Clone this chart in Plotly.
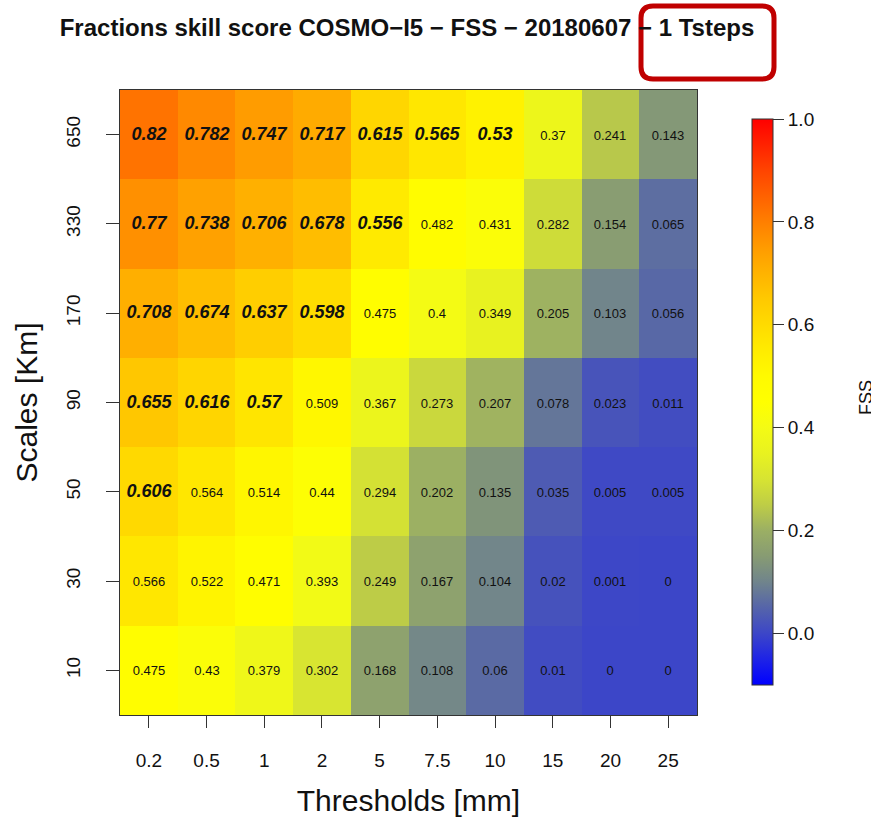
import plotly.graph_objects as go

# Fractions skill score for COSMO-I5, run 20180607, 1 time step
thresholds = ["0.2", "0.5", "1", "2", "5", "7.5", "10", "15", "20", "25"]
scales = ["10", "30", "50", "90", "170", "330", "650"]  # bottom -> top

fss_10 = [0.475, 0.43, 0.379, 0.302, 0.168, 0.108, 0.06, 0.01, 0, 0]
fss_30 = [0.566, 0.522, 0.471, 0.393, 0.249, 0.167, 0.104, 0.02, 0.001, 0]
fss_50 = [0.606, 0.564, 0.514, 0.44, 0.294, 0.202, 0.135, 0.035, 0.005, 0.005]
fss_90 = [0.655, 0.616, 0.57, 0.509, 0.367, 0.273, 0.207, 0.078, 0.023, 0.011]
fss_170 = [0.708, 0.674, 0.637, 0.598, 0.475, 0.4, 0.349, 0.205, 0.103, 0.056]
fss_330 = [0.77, 0.738, 0.706, 0.678, 0.556, 0.482, 0.431, 0.282, 0.154, 0.065]
fss_650 = [0.82, 0.782, 0.747, 0.717, 0.615, 0.565, 0.53, 0.37, 0.241, 0.143]

# 1 = skilful (useful) score, shown in bold italic
useful_10 = [0, 0, 0, 0, 0, 0, 0, 0, 0, 0]
useful_30 = [0, 0, 0, 0, 0, 0, 0, 0, 0, 0]
useful_50 = [1, 0, 0, 0, 0, 0, 0, 0, 0, 0]
useful_90 = [1, 1, 1, 0, 0, 0, 0, 0, 0, 0]
useful_170 = [1, 1, 1, 1, 0, 0, 0, 0, 0, 0]
useful_330 = [1, 1, 1, 1, 1, 0, 0, 0, 0, 0]
useful_650 = [1, 1, 1, 1, 1, 1, 1, 0, 0, 0]

cbar_ticks = [0.0, 0.2, 0.4, 0.6, 0.8, 1.0]

z = [fss_10, fss_30, fss_50, fss_90, fss_170, fss_330, fss_650]
useful = [useful_10, useful_30, useful_50, useful_90, useful_170, useful_330, useful_650]


def cell_label(v, u):
    s = f"{v:g}"
    if u:
        return f"<span style='font-size:18px'><b><i>{s}</i></b></span>"
    return s


text = [[cell_label(v, u) for v, u in zip(zr, ur)] for zr, ur in zip(z, useful)]

ZMIN, ZMAX = -0.1, 1.0
stops = [
    (-0.10, (0, 0, 255)),
    (-0.05, (30, 35, 230)),
    (0.00, (60, 70, 200)),
    (0.05, (85, 100, 170)),
    (0.10, (112, 132, 140)),
    (0.15, (135, 155, 115)),
    (0.20, (155, 175, 100)),
    (0.25, (190, 205, 70)),
    (0.30, (215, 228, 50)),
    (0.35, (232, 242, 32)),
    (0.40, (244, 251, 20)),
    (0.45, (255, 255, 0)),
    (0.50, (255, 250, 0)),
    (0.55, (255, 236, 0)),
    (0.60, (255, 219, 0)),
    (0.65, (255, 201, 0)),
    (0.70, (255, 179, 0)),
    (0.75, (255, 155, 0)),
    (0.80, (255, 127, 0)),
    (0.90, (255, 68, 0)),
    (1.00, (255, 0, 0)),
]
colorscale = [[(v - ZMIN) / (ZMAX - ZMIN), f"rgb{c}"] for v, c in stops]

W, H = 871, 817
L, R, T, B = 120, 697, 90, 715  # plot area in pixels


def px_x(x):
    return (x - L) / (R - L)


def px_y(y):
    return (B - y) / (B - T)


fig = go.Figure(
    go.Heatmap(
        x=thresholds,
        y=scales,
        z=z,
        zmin=ZMIN,
        zmax=ZMAX,
        colorscale=colorscale,
        text=text,
        texttemplate="%{text}",
        textfont=dict(family="Liberation Sans", size=13, color="#111111"),
        hoverinfo="x+y+z",
        colorbar=dict(
            x=px_x(752),
            xanchor="left",
            xpad=0,
            ypad=0,
            y=px_y(402),
            yanchor="middle",
            len=566,
            lenmode="pixels",
            thickness=21,
            thicknessmode="pixels",
            outlinewidth=1,
            outlinecolor="#333333",
            tickmode="array",
            tickvals=cbar_ticks,
            ticktext=[f"{t:.1f}" for t in cbar_ticks],
            ticks="outside",
            ticklen=11,
            tickcolor="#333333",
            tickfont=dict(family="Liberation Sans", size=19, color="#111111"),
        ),
    )
)

# rounded highlight box around the time-step part of the title
x0, x1, y0, y1, r = 641, 774, 6, 79, 12
path = (
    f"M {px_x(x0 + r)},{px_y(y0)} L {px_x(x1 - r)},{px_y(y0)} "
    f"Q {px_x(x1)},{px_y(y0)} {px_x(x1)},{px_y(y0 + r)} "
    f"L {px_x(x1)},{px_y(y1 - r)} "
    f"Q {px_x(x1)},{px_y(y1)} {px_x(x1 - r)},{px_y(y1)} "
    f"L {px_x(x0 + r)},{px_y(y1)} "
    f"Q {px_x(x0)},{px_y(y1)} {px_x(x0)},{px_y(y1 - r)} "
    f"L {px_x(x0)},{px_y(y0 + r)} "
    f"Q {px_x(x0)},{px_y(y0)} {px_x(x0 + r)},{px_y(y0)} Z"
)

fig.update_layout(
    width=W,
    height=H,
    margin=dict(l=L, r=W - R, t=T, b=H - B, pad=0, autoexpand=False),
    paper_bgcolor="white",
    plot_bgcolor="white",
    font=dict(family="Liberation Sans", color="#111111"),
    title=dict(
        text="Fractions skill score COSMO\u2212I5 \u2212 FSS \u2212 20180607 \u2212 1 Tsteps",
        font=dict(family="Liberation Sans", size=24, color="#111111", weight="bold"),
        x=px_x(407),
        xref="paper",
        xanchor="center",
        y=1 - 28 / H,
        yref="container",
        yanchor="middle",
    ),
    xaxis=dict(
        type="category",
        automargin=False,
        showline=True,
        mirror=True,
        linecolor="#333333",
        linewidth=1,
        ticks="outside",
        ticklen=12,
        tickcolor="#333333",
        ticklabelstandoff=16,
        tickfont=dict(family="Liberation Sans", size=19),
        title=dict(text="Thresholds [mm]", font=dict(family="Liberation Sans", size=30), standoff=21),
        showgrid=False,
        zeroline=False,
    ),
    yaxis=dict(
        type="category",
        automargin=False,
        showline=True,
        mirror=True,
        linecolor="#333333",
        linewidth=1,
        ticks="outside",
        ticklen=13,
        tickcolor="#333333",
        tickangle=-90,
        ticklabelstandoff=18,
        tickfont=dict(family="Liberation Sans", size=19),
        title=dict(text="Scales [Km]", font=dict(family="Liberation Sans", size=30), standoff=16),
        showgrid=False,
        zeroline=False,
    ),
    shapes=[
        dict(
            type="path",
            xref="paper",
            yref="paper",
            path=path,
            line=dict(color="#c00000", width=5),
            fillcolor="rgba(0,0,0,0)",
            layer="above",
        )
    ],
    annotations=[
        dict(
            text="FSS",
            xref="paper",
            yref="paper",
            x=px_x(866),
            y=px_y(398),
            xanchor="center",
            yanchor="middle",
            textangle=-90,
            showarrow=False,
            font=dict(family="Liberation Sans", size=18, color="#111111"),
        )
    ],
)

fig.write_html("out.html")
